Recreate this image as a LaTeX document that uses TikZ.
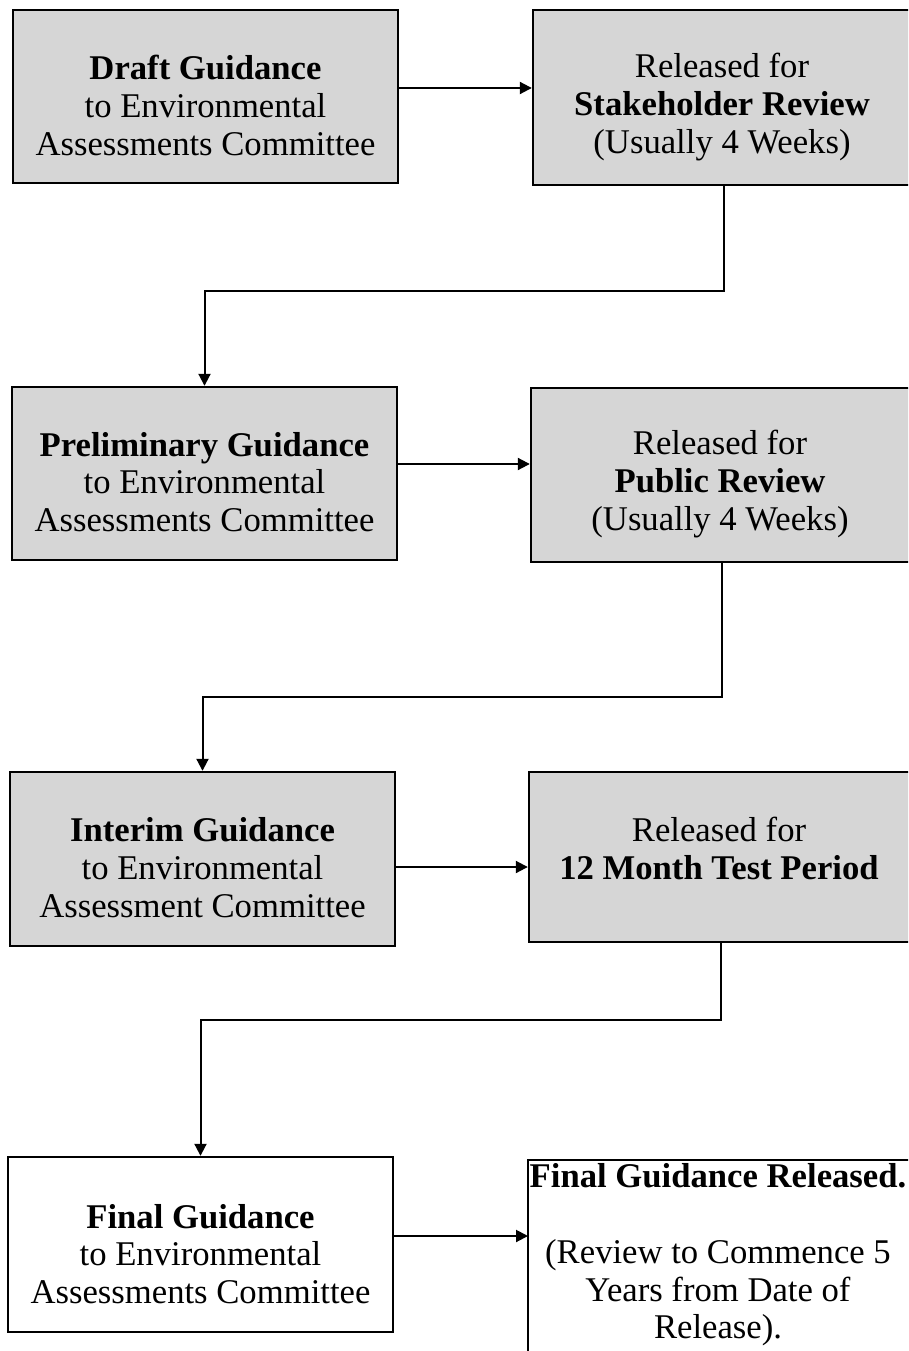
\documentclass[tikz,border=0pt]{standalone}
\usepackage{fontspec}
\setmainfont{Liberation Serif}
\usetikzlibrary{arrows.meta}
\tikzset{
  box/.style={draw=black, line width=1.8pt, fill=black!16, rectangle, inner sep=0pt},
  wbox/.style={box, fill=white},
  txt/.style={align=center, inner sep=0pt, font=\fontsize{26}{28.3}\selectfont},
  arr/.style={draw=black, line width=1.5pt, -{Triangle[length=9pt,width=9pt]}},
}
\begin{document}
\begin{tikzpicture}[x=0.75pt,y=-0.75pt]
\useasboundingbox (0,0) rectangle (908,1351);
\clip (0,0) rectangle (908,1351);
\fill[white] (0,0) rectangle (908,1351);
% row 1
\node[box, minimum width={385*0.75pt}, minimum height={173*0.75pt}] (b1) at (205.5,96.5) {};
\node[txt] (t1) at (205.5,105.5)
  {\textbf{Draft Guidance}\\to Environmental\\Assessments Committee};
\node[box, minimum width={382*0.75pt}, minimum height={175*0.75pt}] (b2) at (724,97.5) {};
\node[txt] (t2) at (722,107)
  {Released for\\\textbf{Stakeholder Review}\\(Usually 4 Weeks)};
% row 2
\node[box, minimum width={385*0.75pt}, minimum height={173*0.75pt}] (b3) at (204.5,473.5) {};
\node[txt] (t3) at (204.5,482)
  {\textbf{Preliminary Guidance}\\to Environmental\\Assessments Committee};
\node[box, minimum width={382*0.75pt}, minimum height={174*0.75pt}] (b4) at (722,475) {};
\node[txt] (t4) at (720,484)
  {Released for\\\textbf{Public Review}\\(Usually 4 Weeks)};
% row 3
\node[box, minimum width={385*0.75pt}, minimum height={174*0.75pt}] (b5) at (202.5,859) {};
\node[txt] (t5) at (202.5,867.5)
  {\textbf{Interim Guidance}\\to Environmental\\Assessment Committee};
\node[box, minimum width={384*0.75pt}, minimum height={170*0.75pt}] (b6) at (721,857) {};
\node[txt] (t6) at (719,848.5)
  {Released for\\\textbf{12 Month Test Period}};
% row 4
\node[wbox, minimum width={385*0.75pt}, minimum height={175*0.75pt}] (b7) at (200.5,1244.5) {};
\node[txt] (t7) at (200.5,1254)
  {\textbf{Final Guidance}\\to Environmental\\Assessments Committee};
\coordinate (b8nw) at (528,1160);
\node[txt] (t8) at (718,1255)
  {\textbf{Final Guidance Released.}\\[28.3pt](Review to Commence 5\\Years from Date of\\Release).};
\draw[line width=1.8pt] (915,1160) -- (b8nw) -- (528,1360);
% horizontal arrows
\draw[arr] (b1.east |- 0,88) -- (b2.west |- 0,88);
\draw[arr] (b3.east |- 0,464) -- (b4.west |- 0,464);
\draw[arr] (b5.east |- 0,867) -- (b6.west |- 0,867);
\draw[arr] (b7.east |- 0,1236) -- (b8nw |- 0,1236);
% elbow arrows
\draw[arr] (b2.south) -- (b2.south |- 0,291) -- (b3.north |- 0,291) -- (b3.north);
\draw[arr] (b4.south) -- (b4.south |- 0,697) -- (b5.north |- 0,697) -- (b5.north);
\draw[arr] (b6.south) -- (b6.south |- 0,1020) -- (b7.north |- 0,1020) -- (b7.north);
\end{tikzpicture}
\end{document}
